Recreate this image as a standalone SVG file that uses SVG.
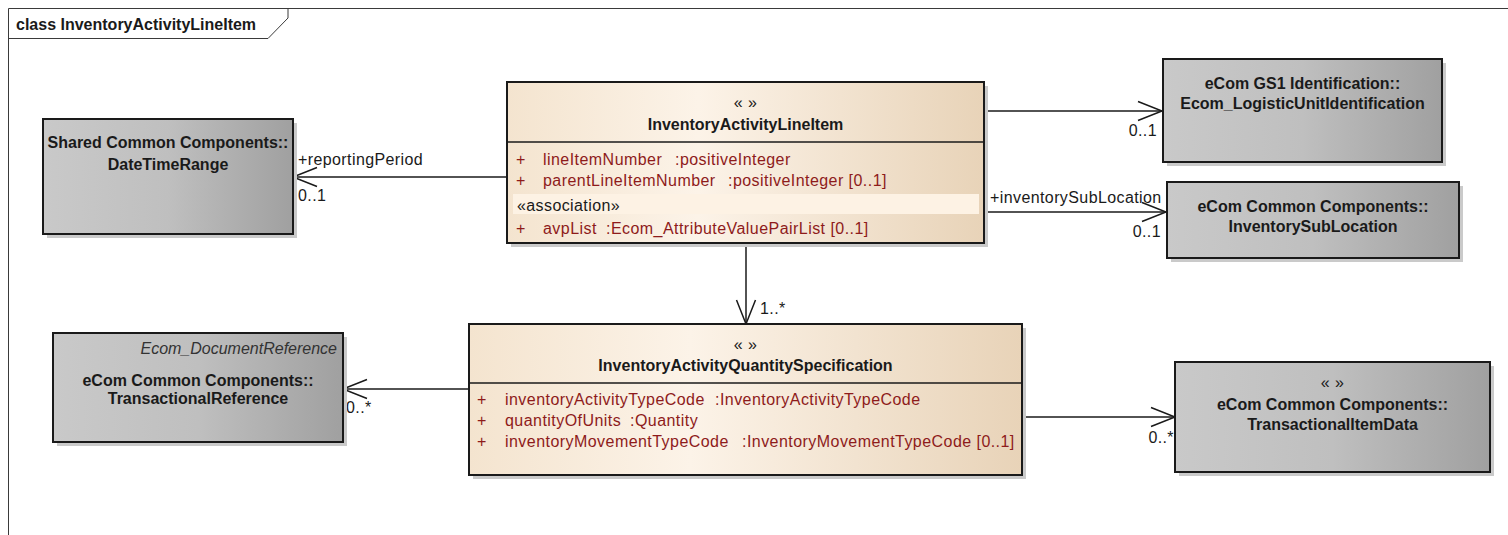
<svg xmlns="http://www.w3.org/2000/svg" width="1508" height="535" viewBox="0 0 1508 535">
<style>
.frame{fill:none;stroke:#3a3a3a;stroke-width:1}
.box{stroke:#1a1a1a;stroke-width:2}
.gray{fill:url(#gGray)}
.beige{fill:url(#gBeige)}
.shadow{fill:#cacaca}
.div{stroke:#1a1a1a;stroke-width:1.6}
.b{font-family:"Liberation Sans",Arial,sans-serif;font-weight:bold;font-size:16px;fill:#1a1a1a}
.r{font-family:"Liberation Sans",Arial,sans-serif;font-size:16px;letter-spacing:0.4px;fill:#1a1a1a}
.it{font-family:"Liberation Sans",Arial,sans-serif;font-size:16px;font-style:italic;fill:#333}
.attr{font-family:"Liberation Sans",Arial,sans-serif;font-size:16px;letter-spacing:0.45px;fill:#8e1b1b}
.c{text-anchor:middle}
.e{text-anchor:end}
.conn{fill:none;stroke:#1a1a1a;stroke-width:1.5}
</style>
<defs>
<linearGradient id="gGray" x1="0" y1="0" x2="1" y2="0">
<stop offset="0" stop-color="#c9c9c9"/>
<stop offset="0.5" stop-color="#bfbfbf"/>
<stop offset="1" stop-color="#a0a0a0"/>
</linearGradient>
<linearGradient id="gBeige" x1="0" y1="0" x2="1" y2="0">
<stop offset="0" stop-color="#f4e4cf"/>
<stop offset="0.4" stop-color="#fcf3e8"/>
<stop offset="1" stop-color="#e8d3b8"/>
</linearGradient>
<marker id="open" markerUnits="userSpaceOnUse" markerWidth="30" markerHeight="24" viewBox="-26 -12 30 24" refX="0" refY="0" orient="auto">
<path d="M-24,-9.5 L0,0 L-24,9.5" fill="none" stroke="#1a1a1a" stroke-width="1.5"/>
</marker>
</defs>
<rect x="0" y="0" width="1508" height="535" fill="#ffffff"/>

<g id="frame">
<path class="frame" d="M8.5,535 V8.5 H1508"/>
<path class="frame" d="M8.5,38.5 H268 L288,18 V8.5"/>
<text class="b" x="16" y="30">class InventoryActivityLineItem</text>
</g>

<g id="connectors">
<path class="conn" d="M507,177 H293" marker-end="url(#open)"/>
<text class="r" x="298" y="165">+reportingPeriod</text>
<text class="r" x="298" y="201">0..1</text>
<path class="conn" d="M984,111 H1162" marker-end="url(#open)"/>
<text class="r e" x="1157" y="136">0..1</text>
<path class="conn" d="M984,212 H1166" marker-end="url(#open)"/>
<text class="r" x="990" y="203">+inventorySubLocation</text>
<text class="r e" x="1161" y="237">0..1</text>
<path class="conn" d="M746,243 V324" marker-end="url(#open)"/>
<text class="r" x="760" y="314">1..*</text>
<path class="conn" d="M468,389 H343" marker-end="url(#open)"/>
<text class="r" x="346" y="413">0..*</text>
<path class="conn" d="M1022,417 H1175" marker-end="url(#open)"/>
<text class="r e" x="1174" y="443">0..*</text>
</g>

<g id="DateTimeRange">
<rect class="shadow" x="47" y="123" width="250" height="115"/>
<rect class="box gray" x="43" y="119" width="250" height="115"/>
<text class="b c" x="168" y="148">Shared Common Components::</text>
<text class="b c" x="168" y="170">DateTimeRange</text>
</g>

<g id="InventoryActivityLineItem">
<rect class="shadow" x="511" y="86" width="477" height="161"/>
<rect class="box beige" x="507" y="82" width="477" height="161"/>
<line class="div" x1="507" y1="142" x2="984" y2="142"/>
<text class="r c" x="745.5" y="108">« »</text>
<text class="b c" x="745.5" y="130">InventoryActivityLineItem</text>
<text class="attr" x="516" y="165">+</text>
<text class="attr" x="543" y="165">lineItemNumber<tspan x="675">:positiveInteger</tspan></text>
<text class="attr" x="516" y="186">+</text>
<text class="attr" x="543" y="186">parentLineItemNumber<tspan x="728">:positiveInteger [0..1]</tspan></text>
<rect x="513" y="194" width="466" height="20" fill="#fdf2e4"/>
<text class="r" x="517" y="211">«association»</text>
<text class="attr" x="516" y="234">+</text>
<text class="attr" x="543" y="234">avpList<tspan x="606">:Ecom_AttributeValuePairList [0..1]</tspan></text>
</g>

<g id="Ecom_LogisticUnitIdentification">
<rect class="shadow" x="1167" y="63" width="279" height="103"/>
<rect class="box gray" x="1163" y="59" width="279" height="103"/>
<text class="b c" x="1302.5" y="89">eCom GS1 Identification::</text>
<text class="b c" x="1302.5" y="109">Ecom_LogisticUnitIdentification</text>
</g>

<g id="InventorySubLocation">
<rect class="shadow" x="1171" y="186" width="292" height="76"/>
<rect class="box gray" x="1167" y="182" width="292" height="76"/>
<text class="b c" x="1313" y="212">eCom Common Components::</text>
<text class="b c" x="1313" y="232">InventorySubLocation</text>
</g>

<g id="TransactionalReference">
<rect class="shadow" x="57" y="337" width="290" height="109"/>
<rect class="box gray" x="53" y="333" width="290" height="109"/>
<text class="it e" x="337" y="354">Ecom_DocumentReference</text>
<text class="b c" x="198" y="386">eCom Common Components::</text>
<text class="b c" x="198" y="404">TransactionalReference</text>
</g>

<g id="InventoryActivityQuantitySpecification">
<rect class="shadow" x="473" y="328" width="553" height="151"/>
<rect class="box beige" x="469" y="324" width="553" height="151"/>
<line class="div" x1="469" y1="383" x2="1022" y2="383"/>
<text class="r c" x="745.5" y="350">« »</text>
<text class="b c" x="745.5" y="371">InventoryActivityQuantitySpecification</text>
<text class="attr" x="477" y="405">+</text>
<text class="attr" x="505" y="405">inventoryActivityTypeCode<tspan x="715">:InventoryActivityTypeCode</tspan></text>
<text class="attr" x="477" y="426">+</text>
<text class="attr" x="505" y="426">quantityOfUnits<tspan x="630">:Quantity</tspan></text>
<text class="attr" x="477" y="447">+</text>
<text class="attr" x="505" y="447">inventoryMovementTypeCode<tspan x="742">:InventoryMovementTypeCode [0..1]</tspan></text>
</g>

<g id="TransactionalItemData">
<rect class="shadow" x="1179" y="366" width="315" height="110"/>
<rect class="box gray" x="1175" y="362" width="315" height="110"/>
<text class="r c" x="1332.5" y="388">« »</text>
<text class="b c" x="1332.5" y="410">eCom Common Components::</text>
<text class="b c" x="1332.5" y="430">TransactionalItemData</text>
</g>
</svg>
